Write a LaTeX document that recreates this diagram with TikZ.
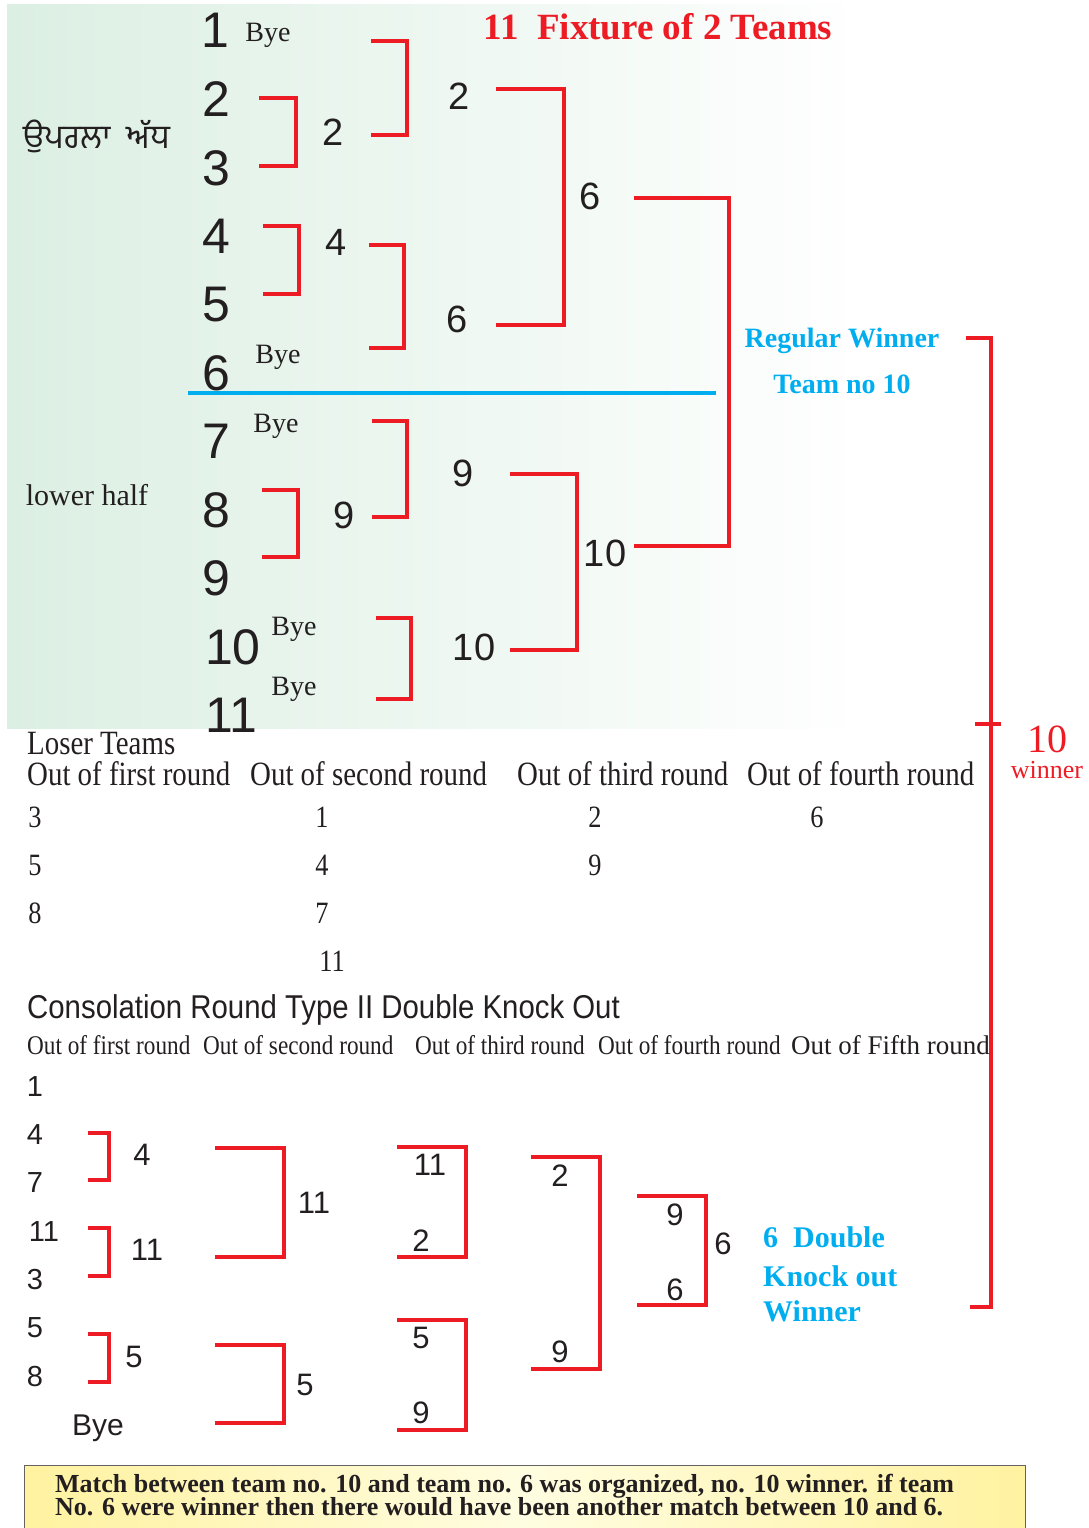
\documentclass[tikz,border=0pt]{standalone}
\usepackage{fontspec}
\setmainfont{Liberation Serif}
\newfontfamily\ar{Liberation Sans}
\newfontfamily\arc[FakeStretch=0.89]{Liberation Sans}
\newfontfamily\tmc[FakeStretch=0.85]{Liberation Serif}
\newfontfamily\tmcc[FakeStretch=0.86]{Liberation Serif}
\newfontfamily\gur[Script=Gurmukhi]{Hind Jalandhar}
\definecolor{rd}{RGB}{237,28,36}
\definecolor{cy}{RGB}{0,174,239}
\definecolor{ink}{RGB}{35,31,32}
\definecolor{mint}{RGB}{220,239,227}
\definecolor{yl1}{RGB}{255,242,160}
\definecolor{yl2}{RGB}{255,253,225}
\newcommand\fs[1]{\fontsize{#1}{#1}\selectfont}
\newcommand\mybrk[5]{%
  \coordinate (#1-t) at (#2,#4);
  \coordinate (#1-r) at (#3,#4);
  \coordinate (#1-b) at (#2,#5);
  \draw[brk] (#1-t) -- (#1-r) -- (#1-r |- #1-b) -- (#1-b);}
\tikzset{
  every node/.style={inner sep=0pt, text=ink},
  big/.style={font=\ar\fs{50}},
  mid/.style={font=\ar\fs{38}},
  sm/.style={font=\ar\fs{31}},
  smc/.style={font=\ar\fs{29}},
  bye/.style={font=\fs{28}},
  tbl/.style={font=\tmc\fs{34}, anchor=west},
  tnum/.style={font=\tmc\fs{31}},
  csub/.style={font=\tmcc\fs{27}, anchor=west},
  brk/.style={draw=rd, line width=3.5pt},
  bluetxt/.style={font=\bfseries\fs{28}, text=cy},
  dko/.style={font=\bfseries\fs{30}, text=cy, anchor=west},
}
\begin{document}
\begin{tikzpicture}[x=1pt, y=-1pt]
\useasboundingbox (0,0) rectangle (1088,1528);
% background
\shade[left color=mint, right color=white] (7,5) rectangle (870,728);
% title
\node[font=\bfseries\fs{37}, text=rd] (title) at (658,27) {11\ \ Fixture of 2 Teams};
% side labels
\node[font=\gur\fs{33}] (upper) at (97,136) {ਉਪਰਲਾ \ ਅੱਧ};
\node[font=\fs{30}] (lower) at (87,495) {lower half};
% teams
\node[big] (t1) at (215,30) {1};
\node[big] (t2) at (216,99) {2};
\node[big] (t3) at (216,168) {3};
\node[big] (t4) at (216,236) {4};
\node[big] (t5) at (216,305) {5};
\node[big] (t6) at (216,373) {6};
\node[big] (t7) at (216,441) {7};
\node[big] (t8) at (216,510) {8};
\node[big] (t9) at (216,578) {9};
\node[big] (t10) at (233,647) {10};
\node[big] (t11) at (231,715) {11};
% byes
\node[bye] (b1) at (268,35) {Bye};
\node[bye] (b6) at (278,357) {Bye};
\node[bye] (b7) at (276,426) {Bye};
\node[bye] (b10) at (294,629) {Bye};
\node[bye] (b11) at (294,689) {Bye};
% divider
\coordinate (dl) at (188,393);
\coordinate (dr) at (716,393);
\draw[cy, line width=4pt] (dl) -- (dr);
% round 1
\mybrk{r1a}{259}{296}{98}{166}
\mybrk{r1b}{263}{299}{226}{294}
\mybrk{r1c}{262}{298}{490}{557}
\mybrk{r1d}{376}{411}{618}{699}
\node[mid] (w23) at (333,132) {2};
\node[mid] (w45) at (336,242) {4};
\node[mid] (w89) at (344,515) {9};
% round 2
\mybrk{r2a}{371}{407}{41}{135}
\mybrk{r2b}{369}{404}{245}{348}
\mybrk{r2c}{372}{407}{421}{517}
\node[mid] (w12) at (459,96) {2};
\node[mid] (w46) at (457,319) {6};
\node[mid] (w79) at (463,473) {9};
\node[mid] (w1011) at (474,647) {10};
% round 3
\mybrk{r3a}{496}{564}{89}{325}
\mybrk{r3b}{510}{577}{474}{650}
\node[mid] (w26) at (590,196) {6};
\node[mid] (w910) at (605,553) {10};
% final
\mybrk{r4}{634}{729}{198}{546}
\node[bluetxt] (rw1) at (842,341) {Regular Winner};
\node[bluetxt] (rw2) at (842,384) {Team no 10};
% overall bracket
\coordinate (ob-t) at (966,338);
\coordinate (ob-r) at (991,338);
\coordinate (ob-b) at (970,1307);
\draw[brk] (ob-t) -- (ob-r) -- (ob-r |- ob-b) -- (ob-b);
\coordinate (tk-l) at (975,724);
\coordinate (tk-r) at (1001,724);
\draw[brk] (tk-l) -- (tk-r);
\node[font=\fs{40}, text=rd] (win10) at (1047,739) {10};
\node[font=\fs{26}, text=rd] (winw) at (1047,770) {winner};
% loser table
\node[tbl] (lt) at (27,744) {Loser Teams};
\node[tbl] (h1) at (27,774) {Out of first round};
\node[tbl] (h2) at (250,774) {Out of second round};
\node[tbl] (h3) at (517,774) {Out of third round};
\node[tbl] (h4) at (747,774) {Out of fourth round};
\node[tnum] (l13) at (35,817) {3};
\node[tnum] (l15) at (35,865) {5};
\node[tnum] (l18) at (35,913) {8};
\node[tnum] (l21) at (322,817) {1};
\node[tnum] (l24) at (322,865) {4};
\node[tnum] (l27) at (322,913) {7};
\node[tnum] (l211) at (332,961) {11};
\node[tnum] (l32) at (595,817) {2};
\node[tnum] (l39) at (595,865) {9};
\node[tnum] (l46) at (817,817) {6};
% consolation
\node[font=\arc\fs{33}, anchor=west] (ct) at (27,1010) {Consolation Round Type II Double Knock Out};
\node[csub] (c1) at (27,1045) {Out of first round};
\node[csub] (c2) at (203,1045) {Out of second round};
\node[csub] (c3) at (415,1045) {Out of third round};
\node[csub] (c4) at (598,1045) {Out of fourth round};
\node[csub, font=\fs{27}] (c5) at (791,1045) {Out of Fifth round};
\node[smc] (k1) at (35,1087) {1};
\node[smc] (k4) at (35,1135) {4};
\node[smc] (k7) at (35,1183) {7};
\node[smc] (k11) at (44,1232) {11};
\node[smc] (k3) at (35,1280) {3};
\node[smc] (k5) at (35,1328) {5};
\node[smc] (k8) at (35,1376) {8};
\node[font=\ar\fs{30}] (kbye) at (98,1428) {Bye};
\mybrk{c1a}{88}{109}{1133}{1180}
\mybrk{c1b}{88}{109}{1228}{1276}
\mybrk{c1c}{88}{109}{1334}{1382}
\node[sm] (kw4) at (142,1155) {4};
\node[sm] (kw11) at (147,1250) {11};
\node[sm] (kw5) at (134,1357) {5};
\mybrk{c2a}{215}{284}{1148}{1257}
\mybrk{c2b}{215}{284}{1345}{1423}
\node[sm] (kx11) at (314,1203) {11};
\node[sm] (kx5) at (305,1385) {5};
\mybrk{c3a}{397}{466}{1147}{1257}
\mybrk{c3b}{397}{466}{1320}{1430}
\node[sm] (ky11) at (430,1165) {11};
\node[sm] (ky2) at (421,1241) {2};
\node[sm] (ky5) at (421,1338) {5};
\node[sm] (ky9) at (421,1413) {9};
\mybrk{c4}{531}{600}{1157}{1369}
\node[sm] (kz2) at (560,1176) {2};
\node[sm] (kz9) at (560,1352) {9};
\mybrk{c5}{637}{706}{1196}{1305}
\node[sm] (kf9) at (675,1215) {9};
\node[sm] (kf6) at (675,1290) {6};
\node[sm] (kfw) at (723,1244) {6};
\node[dko] (d1) at (763,1237) {6\ \ Double};
\node[dko] (d2) at (763,1276) {Knock out};
\node[dko] (d3) at (763,1311) {Winner};
% note box
\shade[left color=yl1, right color=yl1, middle color=yl2] (24,1465) rectangle (1025,1528);
\draw[ink!70, line width=1pt] (24,1528) -- (24,1465) -- (1025,1465) -- (1025,1528);
\node[font=\bfseries\fs{26}, anchor=west, align=left] (note) at (55,1495) {Match between team no. 10 and team no. 6 was organized, no. 10 winner. if team\\[-3pt]No. 6 were winner then there would have been another match between 10 and 6.};
\end{tikzpicture}
\end{document}
